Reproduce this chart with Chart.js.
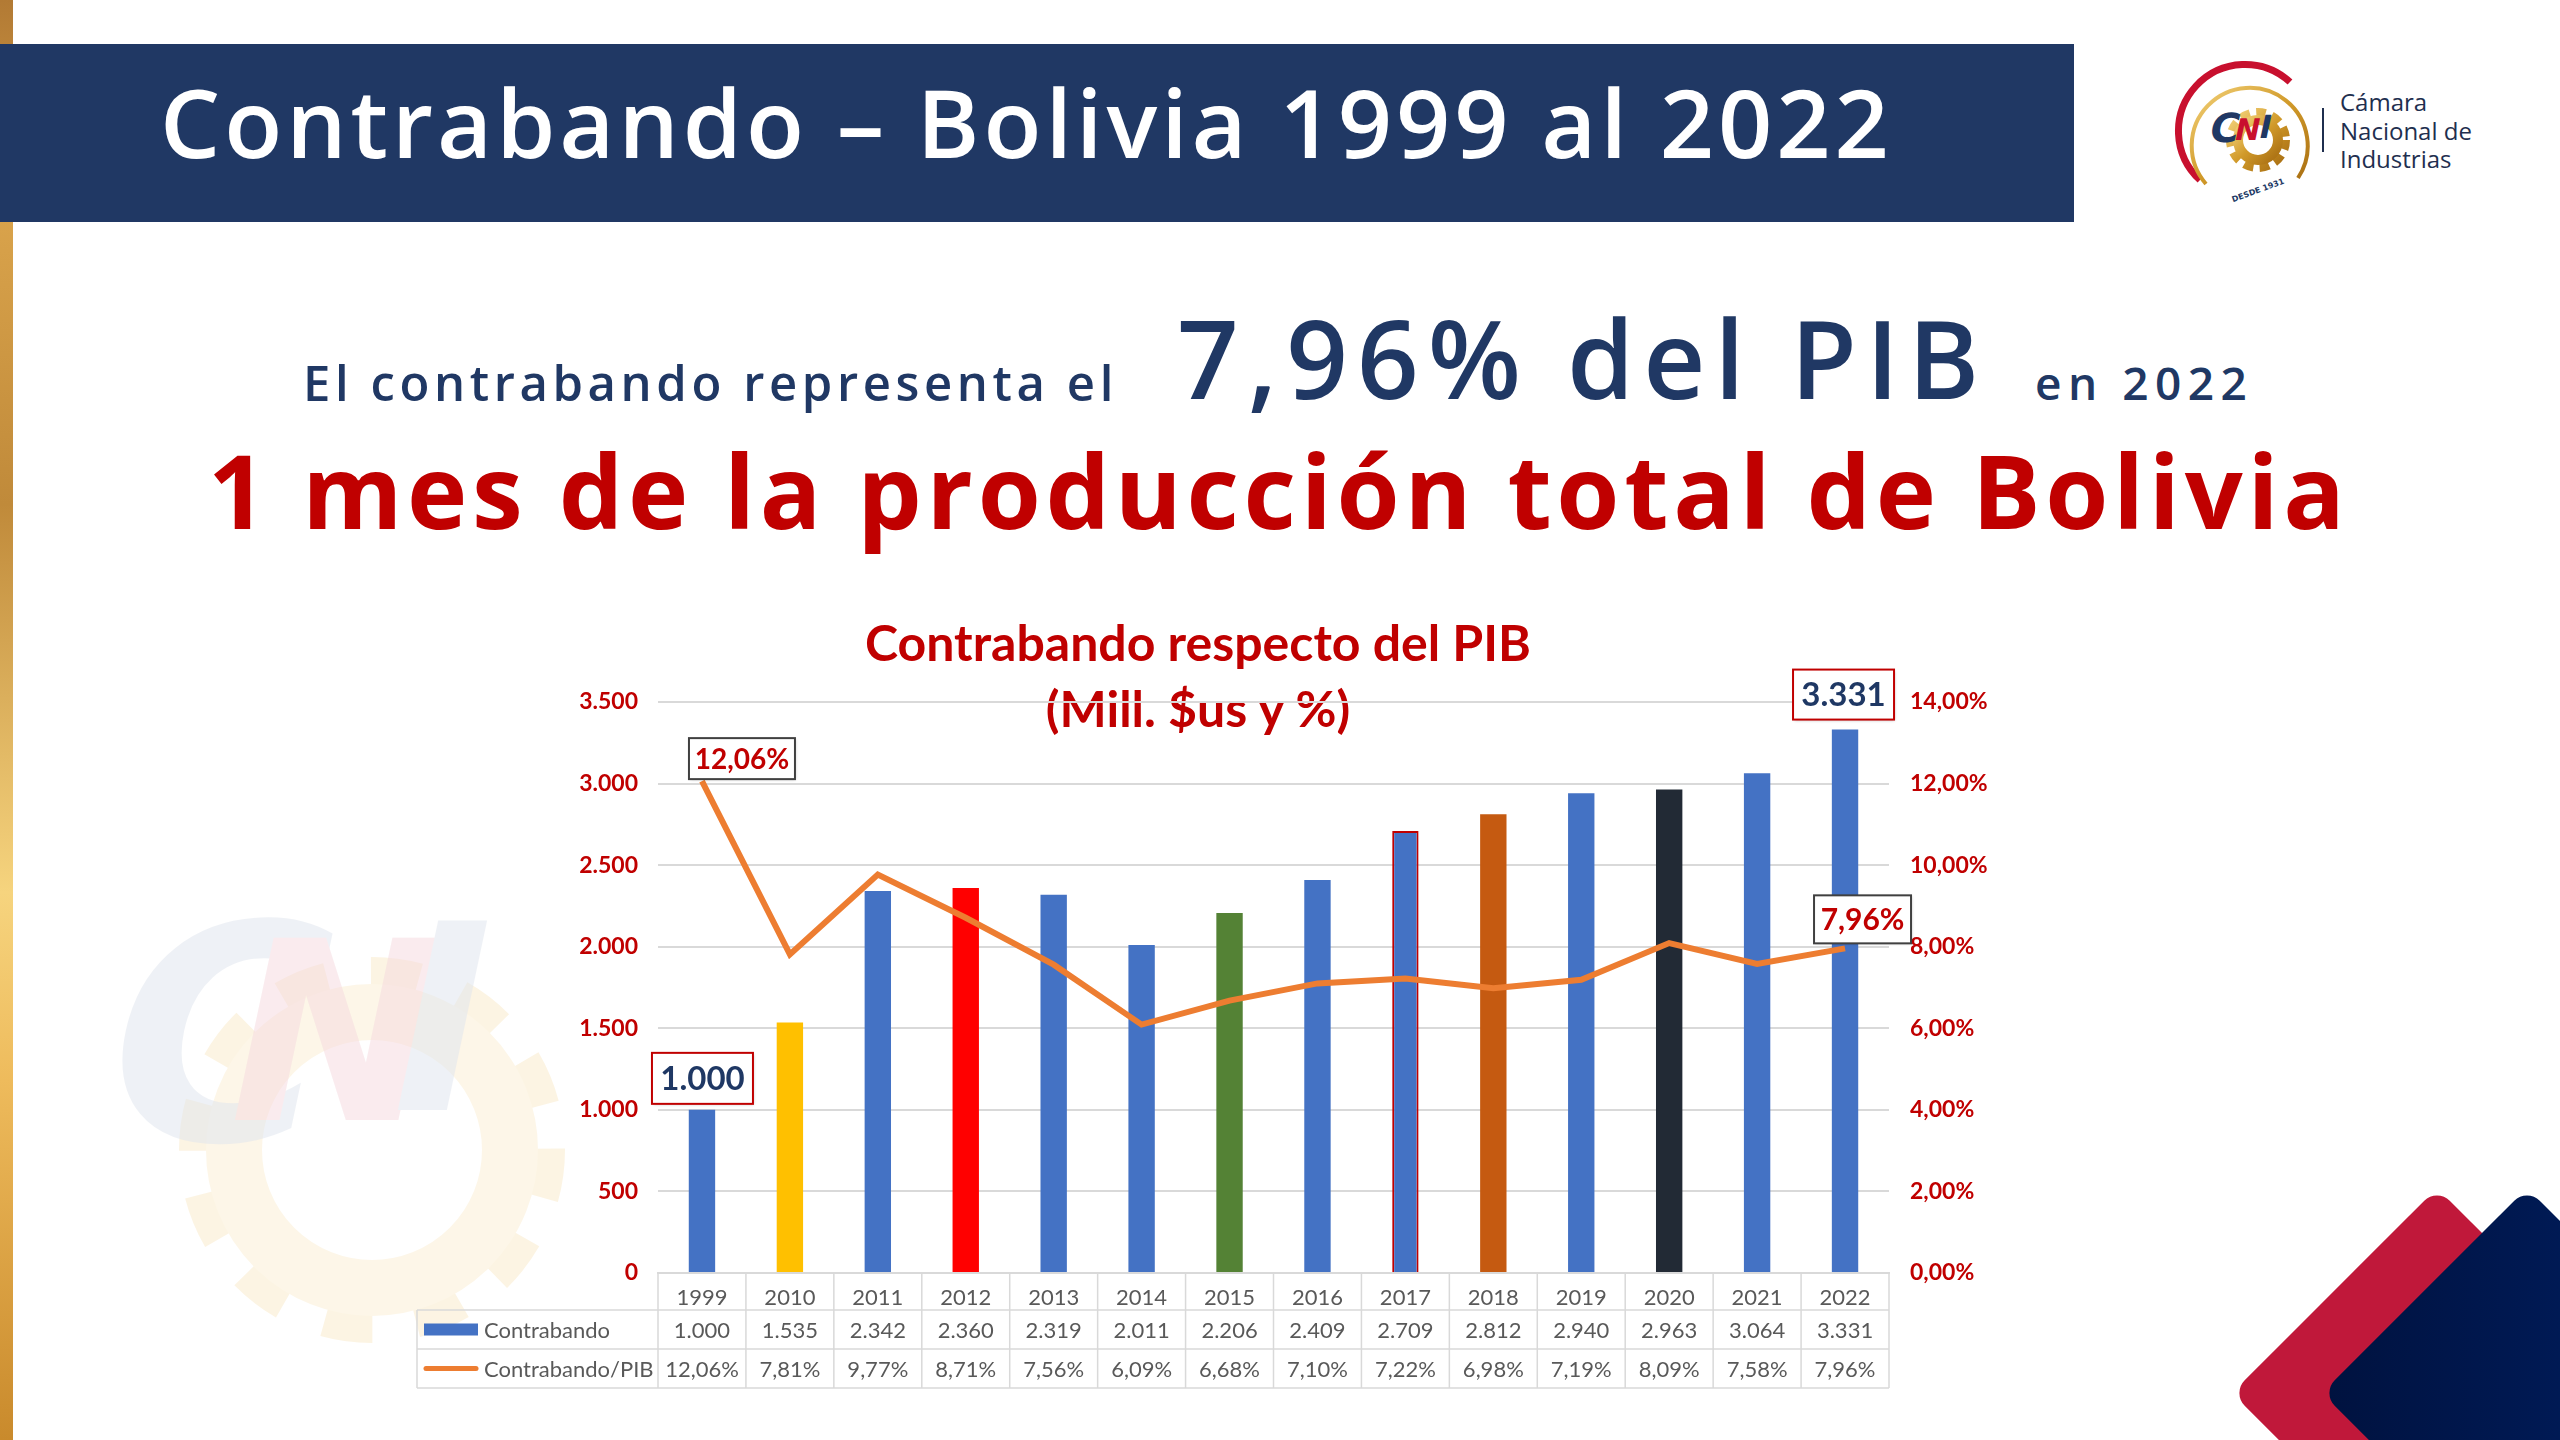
<!DOCTYPE html>
<html lang="es">
<head>
<meta charset="utf-8">
<title>Contrabando – Bolivia 1999 al 2022</title>
<script src="https://cdn.jsdelivr.net/npm/chart.js@4.4.1/dist/chart.umd.min.js"></script>
<style>
  html, body { margin: 0; padding: 0; }
  body { width: 2560px; height: 1440px; position: relative; overflow: hidden; background: #fff; font-family: "Open Sans", sans-serif; }
  .abs { position: absolute; white-space: nowrap; line-height: 1; }
  #strip { left: 0; top: 0; width: 13px; height: 1440px;
    background: linear-gradient(180deg, #b27a34 0%, #d9a34b 15%, #c08a3a 35%, #f6d47e 62%, #eebb5c 75%, #c98a2c 100%); }
  #band { left: 0; top: 44px; width: 2074px; height: 178px; background: #203864; }
  #titulo { left: 160px; top: 74px; font-size: 95px; font-weight: 600; color: #fff; letter-spacing: 4px; }
  .azul { color: #203864; font-weight: 600; }
  #sub1 { left: 303px; top: 358px; font-size: 49px; letter-spacing: 4.6px; }
  #sub2 { left: 1177px; top: 304px; font-size: 108px; letter-spacing: 9px; }
  #sub3 { left: 2035px; top: 359px; font-size: 46px; letter-spacing: 6.5px; }
  #rojo { left: 208px; top: 439px; font-size: 102px; font-weight: 700; color: #c00000; letter-spacing: 4.7px; }
  .ctitle { left: 798px; width: 800px; text-align: center; font-family: Lato, sans-serif;
    font-weight: 700; font-size: 50px; color: #c00000; }
  #ct1 { top: 617px; }
  #ct2 { top: 683px; }
  #chartBox { position: absolute; left: 400px; top: 560px; width: 1640px; height: 840px; }
  #logoTxt { left: 2340px; top: 88px; font-family: "Open Sans", sans-serif; font-size: 24px; line-height: 28.5px; color: #1f2f4f; white-space: normal; width: 220px; }
</style>
</head>
<body>
<div id="strip" class="abs"></div>

<!-- marca de agua -->
<svg class="abs" style="left:0;top:0" width="2560" height="1440">
  <g opacity="0.55">
    <circle cx="372" cy="1150" r="176" fill="none" stroke="#fbeccd" stroke-width="34" stroke-dasharray="48 44"/>
    <circle cx="372" cy="1150" r="138" fill="none" stroke="#fcf0d6" stroke-width="56"/>
  </g>
  <g opacity="0.5" transform="skewX(-12)">
    <text x="330" y="1140" font-family="DejaVu Sans" font-weight="bold" font-size="300" fill="#dfe5ee" letter-spacing="-30">C</text>
    <text x="450" y="1120" font-family="DejaVu Sans" font-weight="bold" font-size="250" fill="#f6d9df">N</text>
    <text x="610" y="1110" font-family="DejaVu Sans" font-weight="bold" font-size="260" fill="#dfe5ee">I</text>
  </g>
</svg>

<div id="band" class="abs"></div>
<div id="titulo" class="abs">Contrabando – Bolivia 1999 al 2022</div>

<!-- logo -->
<svg class="abs" style="left:2170px;top:60px" width="160" height="150">
  <defs>
    <linearGradient id="oro" x1="0" y1="0" x2="1" y2="1">
      <stop offset="0" stop-color="#f3d27a"/><stop offset="0.5" stop-color="#d19a2a"/><stop offset="1" stop-color="#a86e12"/>
    </linearGradient>
  </defs>
  <path d="M 30 120 A 62 62 0 0 1 120 22" fill="none" stroke="#c8102e" stroke-width="7"/>
  <path d="M 36 124 A 58 58 0 1 1 128 118" fill="none" stroke="url(#oro)" stroke-width="4"/>
  <circle cx="88" cy="80" r="26" fill="none" stroke="url(#oro)" stroke-width="12" stroke-dasharray="9 6"/>
  <circle cx="88" cy="80" r="20" fill="none" stroke="url(#oro)" stroke-width="10"/>
  <g transform="skewX(-12)">
    <text x="55" y="82" font-family="DejaVu Sans" font-weight="bold" font-size="40" fill="#203864">C</text>
    <text x="80" y="80" font-family="DejaVu Sans" font-weight="bold" font-size="30" fill="#c8102e">N</text>
    <text x="104" y="78" font-family="DejaVu Sans" font-weight="bold" font-size="32" fill="#203864">I</text>
  </g>
  <text x="62" y="136" font-family="DejaVu Sans" font-weight="bold" font-size="8" fill="#203864" transform="rotate(-20 80 136)">DESDE 1931</text>
</svg>
<div class="abs" style="left:2322px;top:108px;width:2px;height:44px;background:#1f2f4f"></div>
<div id="logoTxt" class="abs">Cámara<br>Nacional de<br>Industrias</div>

<div id="sub1" class="abs azul">El contrabando representa el</div>
<div id="sub2" class="abs azul">7,96% del PIB</div>
<div id="sub3" class="abs azul">en 2022</div>
<div id="rojo" class="abs">1 mes de la producción total de Bolivia</div>

<div id="ct1" class="abs ctitle">Contrabando respecto del PIB</div>
<div id="ct2" class="abs ctitle">(Mill. $us y %)</div>

<div id="chartBox"><canvas id="grafico"></canvas></div>

<!-- esquina -->
<svg class="abs" style="left:0;top:0" width="2560" height="1440">
  <defs>
    <linearGradient id="marino" x1="0" y1="1" x2="1" y2="0">
      <stop offset="0" stop-color="#00123f"/><stop offset="0.6" stop-color="#001a55"/><stop offset="1" stop-color="#05287a"/>
    </linearGradient>
  </defs>
  <rect x="-145" y="-145" width="290" height="290" rx="18" fill="#c0183a" transform="translate(2437,1393) rotate(45)"/>
  <rect x="-145" y="-145" width="290" height="290" rx="18" fill="url(#marino)" transform="translate(2527,1393) rotate(45)"/>
</svg>

<script>
const years = ["1999", "2010", "2011", "2012", "2013", "2014", "2015", "2016", "2017", "2018", "2019", "2020", "2021", "2022"];
const contrabando = [1000, 1535, 2342, 2360, 2319, 2011, 2206, 2409, 2709, 2812, 2940, 2963, 3064, 3331];
const contrabandoPib = [12.06, 7.81, 9.77, 8.71, 7.56, 6.09, 6.68, 7.10, 7.22, 6.98, 7.19, 8.09, 7.58, 7.96];
const leftTicks = ["0", "500", "1.000", "1.500", "2.000", "2.500", "3.000", "3.500"];
const rightTicks = ["0,00%", "2,00%", "4,00%", "6,00%", "8,00%", "10,00%", "12,00%", "14,00%"];

const barColors = ["#4472c4", "#ffc000", "#4472c4", "#ff0000", "#4472c4", "#4472c4", "#548235",
  "#4472c4", "#4472c4", "#c55a11", "#4472c4", "#222a35", "#4472c4", "#4472c4"];

const FUENTE = "Lato, sans-serif";
const GRIS = "#595959";
const ROJO = "#c00000";

function miles(v) {
  return String(v).replace(/\B(?=(\d{3})+(?!\d))/g, ".");
}
function pct(v) {
  return v.toFixed(2).replace(".", ",") + "%";
}

// tabla de datos debajo del eje x
const tabla = {
  id: "tabla",
  afterDraw(chart) {
    const { ctx, chartArea } = chart;
    const x = chart.scales.x;
    const catW = (chartArea.right - chartArea.left) / years.length;
    const r1 = chartArea.bottom, r2 = x.bottom, rowH = 39;
    const r3 = r2 + rowH, r4 = r3 + rowH;
    const izq = 17;
    ctx.save();
    ctx.strokeStyle = "#d9d9d9";
    ctx.lineWidth = 1.5;
    ctx.beginPath();
    [r2, r3, r4].forEach(y => { ctx.moveTo(izq, y); ctx.lineTo(chartArea.right, y); });
    for (let i = 0; i <= years.length; i++) {
      const xx = chartArea.left + i * catW;
      ctx.moveTo(xx, r1); ctx.lineTo(xx, r4);
    }
    ctx.moveTo(izq, r2); ctx.lineTo(izq, r4);
    ctx.stroke();

    ctx.font = "22px " + FUENTE;
    ctx.fillStyle = GRIS;
    ctx.textAlign = "center";
    ctx.textBaseline = "middle";
    years.forEach((y, i) => {
      const cx = x.getPixelForValue(i);
      ctx.fillText(miles(contrabando[i]), cx, r2 + rowH / 2 + 1);
      ctx.fillText(pct(contrabandoPib[i]), cx, r3 + rowH / 2 + 1);
    });
    ctx.textAlign = "left";
    ctx.fillText("Contrabando", 84, r2 + rowH / 2 + 1);
    ctx.fillText("Contrabando/PIB", 84, r3 + rowH / 2 + 1);
    ctx.fillStyle = "#4472c4";
    ctx.fillRect(24, r2 + rowH / 2 - 6, 54, 12);
    ctx.strokeStyle = "#ed7d31";
    ctx.lineWidth = 5;
    ctx.lineCap = "round";
    ctx.beginPath();
    ctx.moveTo(26, r3 + rowH / 2); ctx.lineTo(76, r3 + rowH / 2);
    ctx.stroke();
    ctx.restore();
  }
};

// recuadros de etiquetas
function caja(ctx, left, top, w, h, texto, color, borde, size) {
  ctx.save();
  ctx.fillStyle = "#fff";
  ctx.shadowColor = "rgba(0,0,0,0.25)";
  ctx.shadowBlur = 3;
  ctx.shadowOffsetX = 1;
  ctx.shadowOffsetY = 1;
  ctx.fillRect(left, top, w, h);
  ctx.shadowColor = "transparent";
  ctx.strokeStyle = borde;
  ctx.lineWidth = 2;
  ctx.strokeRect(left, top, w, h);
  ctx.fillStyle = color;
  ctx.font = "bold " + size + "px " + FUENTE;
  ctx.textAlign = "center";
  ctx.textBaseline = "middle";
  ctx.fillText(texto, left + w / 2, top + h / 2 + 1);
  ctx.restore();
}

const etiquetas = {
  id: "etiquetas",
  afterDatasetsDraw(chart) {
    const { ctx } = chart;
    const x = chart.scales.x, y = chart.scales.y, y1 = chart.scales.y1;
    const n = years.length - 1;
    // barras
    let bx = x.getPixelForValue(0), by = y.getPixelForValue(contrabando[0]);
    caja(ctx, bx - 50, by - 57, 101, 51, miles(contrabando[0]), "#1f3864", ROJO, 33);
    bx = x.getPixelForValue(n); by = y.getPixelForValue(contrabando[n]);
    caja(ctx, bx - 52, by - 60, 101, 50, miles(contrabando[n]), "#1f3864", ROJO, 33);
    // linea
    let px = x.getPixelForValue(0), py = y1.getPixelForValue(contrabandoPib[0]);
    caja(ctx, px - 13, py - 43, 106, 41, pct(contrabandoPib[0]), ROJO, "#404040", 28);
    px = x.getPixelForValue(n); py = y1.getPixelForValue(contrabandoPib[n]);
    caja(ctx, px - 31, py - 53, 97, 48, pct(contrabandoPib[n]), ROJO, "#404040", 30);
  }
};

new Chart(document.getElementById("grafico"), {
  data: {
    labels: years,
    datasets: [
      {
        type: "line",
        label: "Contrabando/PIB",
        data: contrabandoPib,
        yAxisID: "y1",
        borderColor: "#ed7d31",
        borderWidth: 6,
        pointRadius: 0,
        tension: 0,
        order: 0,
      },
      {
        type: "bar",
        label: "Contrabando",
        data: contrabando,
        yAxisID: "y",
        backgroundColor: barColors,
        borderColor: years.map(a => a === "2017" ? ROJO : "rgba(0,0,0,0)"),
        borderWidth: years.map(a => a === "2017" ? 2 : 0),
        barPercentage: 0.3,
        categoryPercentage: 1,
        order: 1,
      },
    ],
  },
  options: {
    responsive: true,
    maintainAspectRatio: false,
    animation: false,
    layout: { padding: { left: 0, right: 0, top: 142, bottom: 90 } },
    plugins: { legend: { display: false }, tooltip: { enabled: false } },
    scales: {
      x: {
        grid: { display: false },
        border: { display: true, color: "#d9d9d9", width: 2 },
        ticks: { color: GRIS, font: { family: FUENTE, size: 22 }, padding: 4, maxRotation: 0 },
        afterFit(scale) { scale.height = 37; },
      },
      y: {
        position: "left",
        min: 0,
        max: 3500,
        ticks: {
          stepSize: 500,
          color: ROJO,
          padding: 20,
          font: { family: FUENTE, size: 23, weight: "bold" },
          callback: (v, i) => leftTicks[i],
        },
        grid: { color: "#d9d9d9", lineWidth: 2, drawTicks: false },
        border: { display: false },
        afterFit(scale) { scale.width = 258; },
      },
      y1: {
        position: "right",
        min: 0,
        max: 14,
        ticks: {
          stepSize: 2,
          color: ROJO,
          padding: 21,
          font: { family: FUENTE, size: 23, weight: "bold" },
          callback: (v, i) => rightTicks[i],
        },
        grid: { display: false, drawTicks: false },
        border: { display: false },
        afterFit(scale) { scale.width = 151; },
      },
    },
  },
  plugins: [tabla, etiquetas],
});
</script>
</body>
</html>
